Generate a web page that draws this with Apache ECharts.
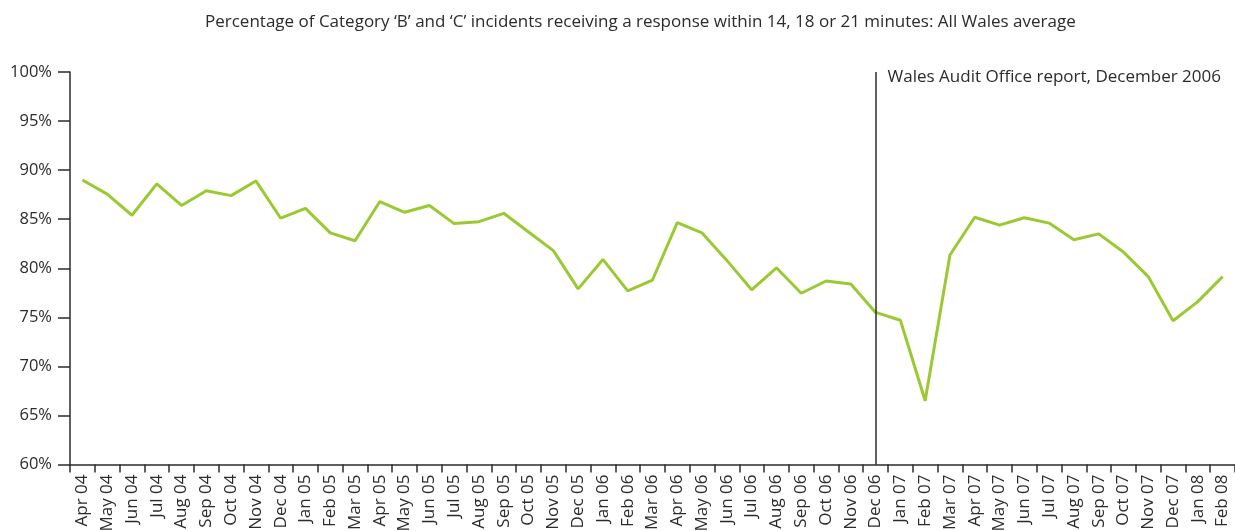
<!DOCTYPE html>
<html>
<head>
<meta charset="utf-8">
<script src="https://cdn.jsdelivr.net/npm/echarts@6/dist/echarts.min.js"></script>
<style>
  html, body { margin: 0; padding: 0; background: #fff; }
  #chart { width: 1235px; height: 531px; }
</style>
</head>
<body>
<div id="chart"></div>
<script>
// Months, Apr 2004 to Feb 2008
const months = [
  'Apr 04','May 04','Jun 04','Jul 04','Aug 04','Sep 04','Oct 04','Nov 04','Dec 04',
  'Jan 05','Feb 05','Mar 05','Apr 05','May 05','Jun 05','Jul 05','Aug 05','Sep 05','Oct 05','Nov 05','Dec 05',
  'Jan 06','Feb 06','Mar 06','Apr 06','May 06','Jun 06','Jul 06','Aug 06','Sep 06','Oct 06','Nov 06','Dec 06',
  'Jan 07','Feb 07','Mar 07','Apr 07','May 07','Jun 07','Jul 07','Aug 07','Sep 07','Oct 07','Nov 07','Dec 07',
  'Jan 08','Feb 08'
];

// All Wales average, % of Category B and C incidents answered in time
const allWalesPct = [
  89.0, 87.55, 85.4, 88.6, 86.4, 87.9, 87.4, 88.9, 85.1,
  86.1, 83.6, 82.8, 86.8, 85.7, 86.4, 84.55, 84.75, 85.6, 83.7, 81.8, 77.9,
  80.9, 77.7, 78.8, 84.65, 83.6, 80.8, 77.8, 80.05, 77.45, 78.7, 78.4, 75.5,
  74.7, 66.5, 81.35, 85.2, 84.4, 85.15, 84.6, 82.9, 83.5, 81.65, 79.15, 74.65,
  76.6, 79.15
];

// Y axis range and step, in percent
const yMin = 60;
const yMax = 100;
const yStep = 5;

const reportMonth = 'Dec 06';
const reportLabel = 'Wales Audit Office report, December 2006';
const titleText = 'Percentage of Category \u2018B\u2019 and \u2018C\u2019 incidents receiving a response within 14, 18 or 21 minutes: All Wales average';

const FONT = '"Open Sans", "Noto Sans", sans-serif';
const INK = '#2b2b2b';

const chart = echarts.init(document.getElementById('chart'), null, { renderer: 'canvas' });

chart.setOption({
  animation: false,
  backgroundColor: '#ffffff',
  title: {
    text: titleText,
    left: 200,
    top: 9,
    textStyle: { fontFamily: FONT, fontSize: 17, fontWeight: 'normal', color: INK }
  },
  grid: { left: 70, right: 0, top: 72, bottom: 66.5, containLabel: false, outerBoundsMode: 'none' },
  xAxis: {
    type: 'category',
    data: months,
    boundaryGap: true,
    axisLine: { lineStyle: { color: INK, width: 1.5 } },
    axisTick: { show: true, length: 8, lineStyle: { color: INK, width: 1.5 } },
    axisLabel: {
      rotate: 90,
      interval: 0,
      margin: 10,
      fontFamily: FONT,
      fontSize: 17,
      color: INK
    },
    splitLine: { show: false }
  },
  yAxis: {
    type: 'value',
    min: yMin,
    max: yMax,
    interval: yStep,
    axisLine: { show: true, lineStyle: { color: INK, width: 1.5 } },
    axisTick: { show: true, length: 12, lineStyle: { color: INK, width: 1.5 } },
    axisLabel: {
      margin: 18,
      fontFamily: FONT,
      fontSize: 16.5,
      color: INK,
      formatter: v => v + '%'
    },
    splitLine: { show: false }
  },
  series: [{
    type: 'line',
    data: allWalesPct,
    symbol: 'none',
    lineStyle: { color: '#9bc932', width: 3 },
    markLine: {
      silent: true,
      symbol: ['none', 'none'],
      lineStyle: { color: INK, width: 1.5, type: 'solid' },
      label: { show: false },
      data: [[
        { xAxis: reportMonth, yAxis: yMin },
        { xAxis: reportMonth, yAxis: yMax }
      ]]
    }
  }]
});

// Caption beside the report marker line, placed from the axis scale
function placeCaption() {
  const top = chart.convertToPixel({ gridIndex: 0 }, [reportMonth, yMax]);
  chart.setOption({
    graphic: [{
      type: 'text',
      left: top[0] + 12,
      top: top[1] - 3,
      style: {
        text: reportLabel,
        fontFamily: FONT,
        fontSize: 17,
        fill: INK
      }
    }]
  });
}
placeCaption();
</script>
</body>
</html>
